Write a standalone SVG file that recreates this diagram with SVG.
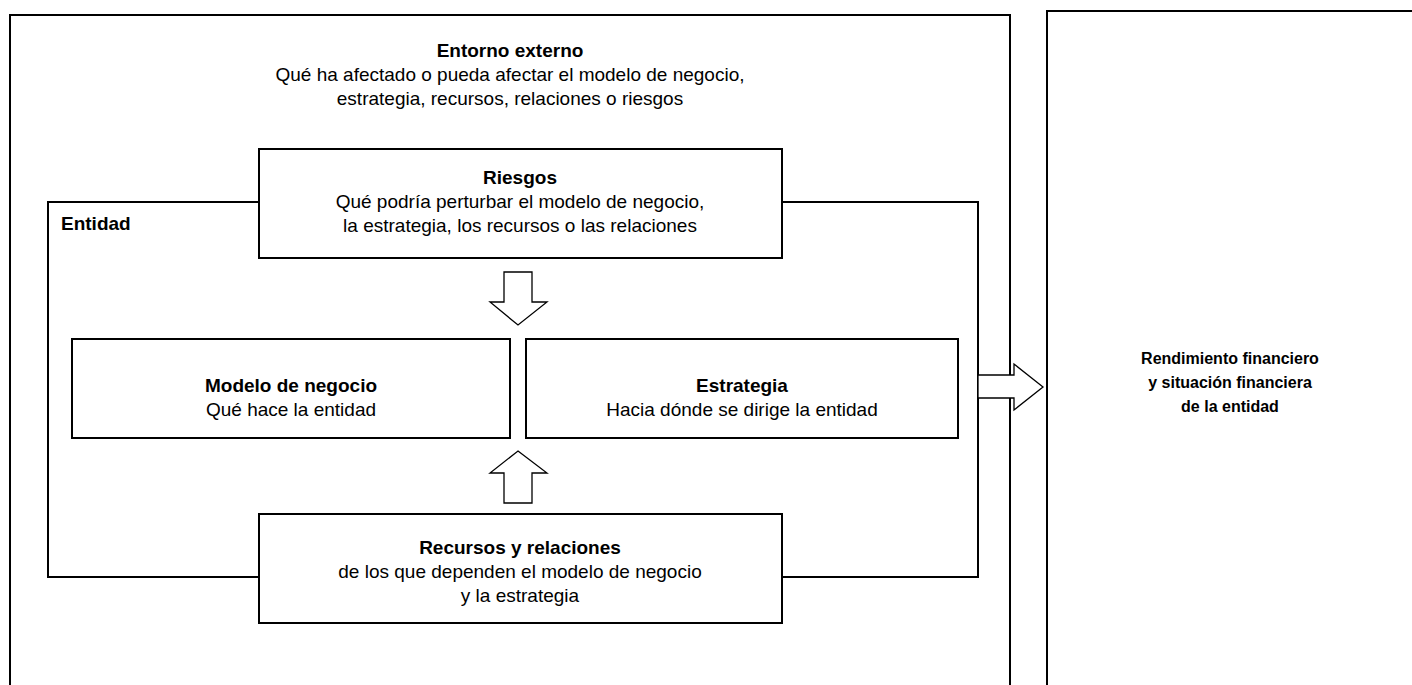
<svg xmlns="http://www.w3.org/2000/svg" width="1412" height="685" viewBox="0 0 1412 685">
<style>
.box{fill:#fff;stroke:#000;stroke-width:2}
.arr{fill:#fff;stroke:#000;stroke-width:1.3}
text{font-family:"Liberation Sans",Arial,sans-serif;font-size:19px;fill:#000;text-anchor:middle}
.b{font-weight:bold}
.s{font-size:16px}
</style>
<rect width="1412" height="685" fill="#fff"/>
<g id="entorno">
<rect class="box" x="10" y="15" width="1000" height="690"/>
<text x="510" y="57" class="b">Entorno externo</text>
<text x="510" y="81">Qué ha afectado o pueda afectar el modelo de negocio,</text>
<text x="510" y="105">estrategia, recursos, relaciones o riesgos</text>
</g>
<g id="rendimiento">
<rect class="box" x="1047" y="11" width="400" height="700"/>
<text x="1230" y="364" class="b s">Rendimiento financiero</text>
<text x="1230" y="388" class="b s">y situación financiera</text>
<text x="1230" y="412" class="b s">de la entidad</text>
</g>
<g id="entidad">
<rect class="box" x="48" y="202" width="930" height="375"/>
<text x="61" y="230" class="b" style="text-anchor:start">Entidad</text>
</g>
<g id="riesgos">
<rect class="box" x="259" y="149" width="523" height="109"/>
<text x="520" y="184" class="b">Riesgos</text>
<text x="520" y="208">Qué podría perturbar el modelo de negocio,</text>
<text x="520" y="232">la estrategia, los recursos o las relaciones</text>
</g>
<g id="modelo">
<rect class="box" x="72" y="339" width="438" height="99"/>
<text x="291" y="392" class="b">Modelo de negocio</text>
<text x="291" y="416">Qué hace la entidad</text>
</g>
<g id="estrategia">
<rect class="box" x="526" y="339" width="432" height="99"/>
<text x="742" y="392" class="b">Estrategia</text>
<text x="742" y="416">Hacia dónde se dirige la entidad</text>
</g>
<g id="recursos">
<rect class="box" x="259" y="514" width="523" height="109"/>
<text x="520" y="554" class="b">Recursos y relaciones</text>
<text x="520" y="578">de los que dependen el modelo de negocio</text>
<text x="520" y="602">y la estrategia</text>
</g>
<g id="connectors">
<polygon class="arr" points="504,272 532,272 532,302 547,302 518,325 490,302 504,302"/>
<polygon class="arr" points="518,451 547,473 532,473 532,503 504,503 504,473 490,473"/>
<polygon class="arr" points="978,375 1014,375 1014,364 1043,387 1014,410 1014,398 978,398"/>
</g>
</svg>
